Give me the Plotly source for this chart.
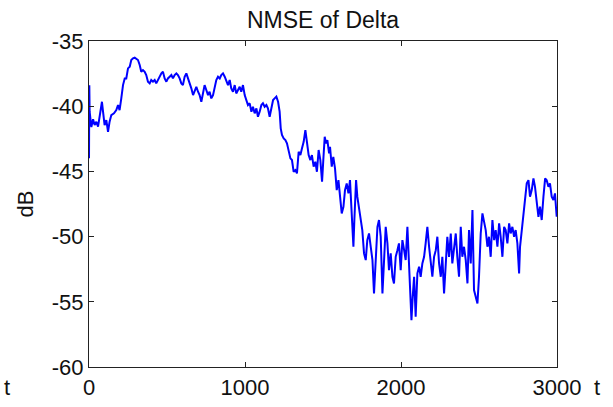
import plotly.graph_objects as go

# NMSE of the Delta estimate
t = [
    0, 2, 4, 15, 26, 36, 47, 58, 68, 83, 90, 100, 111, 122, 132, 143, 160, 175,
    186, 196, 207, 218, 229, 239, 250, 261, 271, 282, 293, 303, 314, 325, 335,
    346, 357, 367, 378, 389, 399, 410, 421, 431, 442, 453, 464, 474, 485, 496,
    506, 517, 528, 538, 549, 560, 570, 581, 592, 602, 613, 624, 635, 645, 656,
    667, 677, 688, 699, 709, 720, 731, 741, 752, 763, 773, 784, 795, 806, 816,
    827, 838, 848, 859, 870, 880, 891, 902, 912, 923, 934, 944, 955, 966, 976,
    987, 998, 1009, 1019, 1030, 1041, 1051, 1062, 1073, 1083, 1094, 1105, 1115,
    1126, 1137, 1147, 1158, 1169, 1180, 1190, 1201, 1212, 1222, 1229, 1237,
    1248, 1259, 1269, 1280, 1291, 1301, 1312, 1323, 1333, 1344, 1355, 1365,
    1376, 1387, 1397, 1408, 1419, 1429, 1440, 1451, 1461, 1472, 1483, 1494,
    1502, 1511, 1519, 1528, 1539, 1545, 1556, 1566, 1577, 1588, 1599, 1609,
    1620, 1631, 1641, 1652, 1663, 1673, 1684, 1695, 1701, 1712, 1720, 1733,
    1742, 1752, 1763, 1774, 1784, 1795, 1806, 1817, 1827, 1838, 1849, 1859,
    1870, 1881, 1891, 1902, 1913, 1923, 1934, 1945, 1955, 1966, 1977, 1987,
    1998, 2009, 2020, 2030, 2041, 2049, 2058, 2067, 2075, 2084, 2094, 2105,
    2116, 2126, 2137, 2148, 2158, 2169, 2180, 2190, 2201, 2212, 2223, 2233,
    2244, 2255, 2265, 2276, 2287, 2297, 2308, 2319, 2329, 2340, 2351, 2361,
    2372, 2383, 2393, 2404, 2415, 2426, 2436, 2447, 2458, 2468, 2479, 2490,
    2500, 2511, 2522, 2532, 2543, 2554, 2564, 2575, 2586, 2597, 2607, 2618,
    2629, 2639, 2650, 2661, 2671, 2682, 2693, 2703, 2714, 2725, 2735, 2746,
    2757, 2763, 2774, 2785, 2795, 2806, 2817, 2827, 2838, 2849, 2859, 2870,
    2881, 2891, 2902, 2913, 2924, 2934, 2945, 2955, 2966, 2977, 2987, 2998,
]
nmse_db = [
    -44.0, -38.4, -40.4, -41.6, -41.0, -41.45, -41.19, -41.57, -40.68, -39.66,
    -40.42, -41.45, -41.06, -41.96, -41.19, -40.68, -40.55, -40.30, -39.91,
    -40.30, -39.40, -38.38, -37.87, -37.87, -37.10, -36.97, -36.46, -36.33,
    -36.28, -36.38, -36.46, -36.84, -37.36, -37.23, -37.36, -37.61, -38.12,
    -38.25, -37.99, -38.12, -37.99, -38.25, -37.99, -37.74, -37.48, -37.36,
    -37.87, -38.12, -37.87, -37.74, -37.61, -37.87, -37.61, -37.48, -37.61,
    -37.87, -38.25, -38.38, -37.74, -37.48, -37.87, -38.12, -38.63, -39.15,
    -38.89, -38.51, -38.89, -39.15, -39.66, -39.02, -38.38, -38.76, -39.15,
    -38.89, -39.40, -39.15, -38.63, -37.99, -37.74, -37.87, -37.61, -37.48,
    -37.74, -38.12, -38.38, -37.99, -38.63, -38.89, -38.38, -39.02, -38.76,
    -38.51, -38.89, -38.38, -39.15, -39.53, -39.91, -39.78, -40.42, -40.04,
    -40.55, -40.17, -40.81, -40.42, -39.91, -39.78, -40.04, -39.91, -40.17,
    -40.81, -40.04, -39.53, -39.40, -39.27, -39.66, -40.42, -41.70, -42.21,
    -42.47, -42.60, -42.85, -43.49, -44.00, -44.13, -45.03, -44.90, -45.15,
    -43.49, -43.75, -43.24, -42.73, -41.83, -42.98, -43.75, -44.13, -43.75,
    -44.64, -44.26, -45.03, -43.36, -44.13, -45.79,
    -44.13, -42.34, -42.85, -42.60, -43.62, -43.11, -44.64, -43.88, -44.77,
    -46.43, -45.67, -46.94, -48.22, -47.71, -46.43, -45.92, -46.69, -45.67,
    -48.22, -50.78, -48.73, -45.67, -46.94, -47.97, -48.73, -49.50, -51.29,
    -51.80, -50.27, -49.76, -50.78, -51.80, -54.36, -51.55, -49.25, -48.73,
    -50.01, -54.36, -52.06, -49.25, -50.52, -52.57, -51.29, -53.08, -53.59,
    -51.55, -51.04, -50.52, -52.57, -50.27, -51.04, -51.80, -49.25, -51.55,
    -54.10, -56.41, -54.62, -53.08, -56.15, -52.82, -52.31, -53.08, -52.06,
    -51.55, -50.52, -49.25, -50.78, -52.06, -53.08, -51.55, -51.04, -50.01,
    -52.06, -53.08, -51.55, -54.36, -52.31, -50.01, -51.55, -49.76, -52.06,
    -51.04, -49.76, -51.55, -53.08, -49.25, -51.55, -50.78, -51.80, -53.59,
    -49.50, -52.06, -47.97, -54.10, -54.62, -55.13, -53.08, -49.76, -48.22,
    -48.99, -49.50, -50.78, -50.01, -51.55, -48.73, -50.27, -49.50, -50.78,
    -48.99, -50.01, -51.55, -49.25, -49.50, -50.52, -48.99, -49.76, -49.25,
    -50.01, -49.50, -50.52, -52.82, -50.78, -49.50, -48.22, -46.94, -45.92,
    -45.67, -46.94, -46.43, -45.54, -46.18, -47.20, -48.48, -47.71, -48.73,
    -46.94, -45.54, -45.67, -46.18, -45.92, -46.94, -47.20, -46.69, -48.48,
]

x_ticks = [0, 1000, 2000, 3000]
y_ticks = [-35, -40, -45, -50, -55, -60]

font_family = "Liberation Sans, Arial, sans-serif"

fig = go.Figure()
fig.add_trace(
    go.Scatter(
        x=t,
        y=nmse_db,
        mode="lines",
        line=dict(color="#0000ff", width=2),
        showlegend=False,
    )
)

axis_style = dict(
    showline=True,
    linecolor="#222222",
    linewidth=1.2,
    mirror="ticks",
    ticks="inside",
    ticklen=5,
    tickcolor="#222222",
    showgrid=False,
    zeroline=False,
    automargin=False,
    tickfont=dict(size=22, color="#111111", family=font_family),
)

fig.update_layout(
    width=613,
    height=407,
    margin=dict(l=89, r=56, t=41, b=40),
    paper_bgcolor="white",
    plot_bgcolor="white",
    title=dict(
        text="NMSE of Delta",
        x=0.527,
        xanchor="center",
        y=0.951,
        yanchor="middle",
        font=dict(size=23, color="#111111", family=font_family),
    ),
    xaxis=dict(range=[0, 3000], tickvals=x_ticks,
               ticktext=[str(v) for v in x_ticks], **axis_style),
    yaxis=dict(
        range=[-60, -35],
        tickvals=y_ticks,
        ticktext=[str(v) for v in y_ticks],
        title=dict(text="dB", standoff=12,
                   font=dict(size=22, color="#111111", family=font_family)),
        **axis_style,
    ),
)

# stray "t" labels at both ends of the x axis
for xp in [-0.176, 1.085]:
    fig.add_annotation(
        x=xp, y=-0.064, xref="paper", yref="paper",
        text="t", showarrow=False, xanchor="center", yanchor="middle",
        font=dict(size=22, color="#111111", family=font_family),
    )

# drop the default 8px page margin so the figure fills the window exactly
fig.write_html(
    "out.html",
    config={"displayModeBar": False},
    post_script="document.body.style.margin='0';",
)
